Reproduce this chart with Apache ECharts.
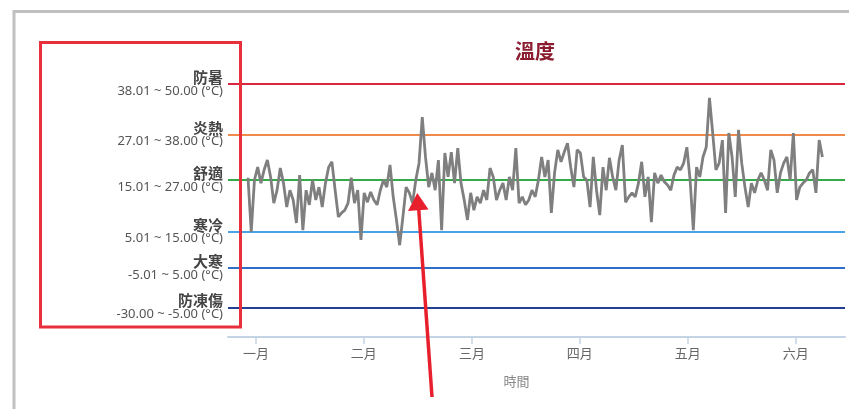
<!DOCTYPE html>
<html>
<head>
<meta charset="utf-8">
<script src="https://cdn.jsdelivr.net/npm/echarts@6/dist/echarts.min.js"></script>
<style>
html,body{margin:0;padding:0;background:#fff;}
#chart{width:849px;height:409px;}
</style>
</head>
<body>
<div id="chart"></div>
<script>
// ---- data ----
const chartTitle = '溫度';
const xAxisName = '時間';
const monthLabels = ['一月', '二月', '三月', '四月', '五月', '六月'];
const monthTickPos = [2.5, 35.9, 69.4, 102.8, 136.3, 169.7]; // sample index where each month tick sits
const bandNames = ['防暑', '炎熱', '舒適', '寒冷', '大寒', '防凍傷'];
const bandRanges = ['38.01 ~ 50.00 (°C)', '27.01 ~ 38.00 (°C)', '15.01 ~ 27.00 (°C)', '5.01 ~ 15.00 (°C)', '-5.01 ~ 5.00 (°C)', '-30.00 ~ -5.00 (°C)'];
const bandLevels = [38, 26.7, 16.4, 4.8, -3.4, -12.3];
const temps = [
  16.9, 4.7, 16.4, 19.3, 15.7, 18.7, 20.9, 17.1, 11.2, 14.1,
  19.1, 15.7, 10.3, 14.1, 11.9, 6.7, 17.5, 5.1, 14.1, 10.8,
  16.4, 11.9, 14.8, 10.3, 15.7, 19.3, 20.5, 14.1, 8.1, 9.0,
  9.6, 11.2, 16.9, 11.2, 14.1, 2.9, 13.5, 11.4, 13.7,
  11.9, 10.8, 14.1, 16.4, 14.8, 19.8, 12.6,
  7.4, 1.7, 8.1, 14.8, 13.5, 11.2, 16.4, 20.2, 30.6, 21.6,
  14.8, 18.0, 14.1, 20.9, 5.1, 22.5, 17.1, 22.7, 15.7, 23.6,
  15.7, 11.9, 7.4, 13.5, 9.6, 12.6, 11.2, 14.1, 11.9, 19.1,
  17.1, 11.9, 14.1, 15.7, 11.9, 17.1, 14.1, 23.6, 11.2, 12.6,
  10.8, 11.9, 14.1, 12.6, 16.4, 21.6, 17.1, 20.9,
  9.0, 18.0, 23.2, 20.5, 22.7, 24.7, 19.3, 14.8, 23.2, 22.5,
  17.1, 16.4, 10.3, 21.6, 14.1, 8.5, 19.3, 14.1, 21.4, 17.1,
  14.1, 20.9, 24.3, 11.4, 12.6, 13.5, 12.6, 15.7, 20.5, 12.6,
  17.1, 6.9, 18.0, 15.7, 17.5, 16.0, 15.3, 14.1, 17.5, 19.3,
  18.7, 20.2, 23.8, 16.4, 5.1, 19.3, 17.1, 21.6, 23.8, 34.9,
  27.0, 18.7, 20.2, 25.4, 9.0, 27.0, 21.6, 12.6, 27.7, 20.2,
  14.8, 10.3, 15.7, 13.5, 16.4, 18.0, 16.4, 14.1, 23.2, 20.9,
  13.5, 18.0, 20.2, 21.6, 16.4, 27.0, 11.9, 14.8, 15.7, 16.4,
  18.0, 18.7, 13.5, 25.4, 21.6
];

// ---- style ----
const bandColors = ['#d7263d', '#ef8a4c', '#34aa48', '#4aa3e6', '#2f6fc9', '#233f92'];
const FONT = "'Noto Sans', 'Noto Sans CJK TC', sans-serif";
const CJK = "'Noto Sans CJK TC', sans-serif";

const chart = echarts.init(document.getElementById('chart'), null, {renderer: 'canvas'});

const option = {
  animation: false,
  backgroundColor: '#fff',
  textStyle: {fontFamily: FONT},
  title: {
    text: chartTitle,
    left: 510,
    top: 36,
    textStyle: {color: '#8b1c2f', fontSize: 20, fontWeight: 'bold', fontFamily: CJK}
  },
  grid: {left: 228, right: 4, top: 31, bottom: 72},
  xAxis: {
    type: 'value',
    min: -6.2,
    max: 185,
    name: xAxisName,
    nameLocation: 'middle',
    nameGap: 38,
    nameTextStyle: {color: '#888', fontSize: 13, fontFamily: CJK, padding: [0, 40, 0, 0]},
    axisLine: {show: true, onZero: false, lineStyle: {color: '#c5d3e6', width: 2}},
    axisTick: {show: true, customValues: monthTickPos, length: 7, lineStyle: {color: '#c5d3e6', width: 1.5}},
    axisLabel: {
      customValues: monthTickPos,
      margin: 10,
      color: '#666',
      fontSize: 13,
      fontFamily: CJK,
      formatter: function (v) {
        let best = 0;
        monthTickPos.forEach(function (p, i) { if (Math.abs(p - v) < Math.abs(monthTickPos[best] - v)) best = i; });
        return monthLabels[best];
      }
    },
    splitLine: {show: false}
  },
  yAxis: {
    type: 'value',
    min: -19,
    max: 50,
    axisLine: {show: false},
    axisTick: {show: false},
    splitLine: {show: false},
    axisLabel: {
      customValues: bandLevels,
      margin: 5,
      formatter: function (v) {
        let best = 0;
        bandLevels.forEach(function (p, i) { if (Math.abs(p - v) < Math.abs(bandLevels[best] - v)) best = i; });
        return '{n|' + bandNames[best] + '}\n{r|' + bandRanges[best] + '}';
      },
      rich: {
        n: {fontSize: 15, color: '#444', fontWeight: 'bold', lineHeight: 14, fontFamily: CJK},
        r: {fontSize: 13, color: '#555', lineHeight: 13, fontFamily: FONT}
      }
    }
  },
  series: [
    {
      type: 'line',
      name: chartTitle,
      data: temps.map(function (t, i) { return [i, t]; }),
      showSymbol: false,
      symbol: 'none',
      lineStyle: {color: '#7f7f7f', width: 2.8},
      z: 3,
      markLine: {
        silent: true,
        symbol: 'none',
        label: {show: false},
        data: bandLevels.map(function (lv, i) {
          return {yAxis: lv, lineStyle: {color: bandColors[i], width: 2, type: 'solid'}};
        }),
        z: 2
      }
    }
  ],
  graphic: [
    {
      type: 'polyline', z: 100, silent: true,
      shape: {points: [[14, 409], [14, 11.5], [849, 11.5]]},
      style: {stroke: '#c0c0c0', lineWidth: 3, fill: null}
    },
    {
      type: 'rect', z: 100, silent: true,
      shape: {x: 40.5, y: 42.5, width: 200, height: 284.5},
      style: {stroke: '#e8303c', lineWidth: 3, fill: null}
    },
    {
      type: 'line', z: 100, silent: true,
      shape: {x1: 432, y1: 397, x2: 418.5, y2: 206},
      style: {stroke: '#e8202e', lineWidth: 3.5}
    },
    {
      type: 'polygon', z: 100, silent: true,
      shape: {points: [[417.3, 193], [408, 211], [428.5, 209.5]]},
      style: {fill: '#e8202e'}
    }
  ]
};

chart.setOption(option);
</script>
</body>
</html>
